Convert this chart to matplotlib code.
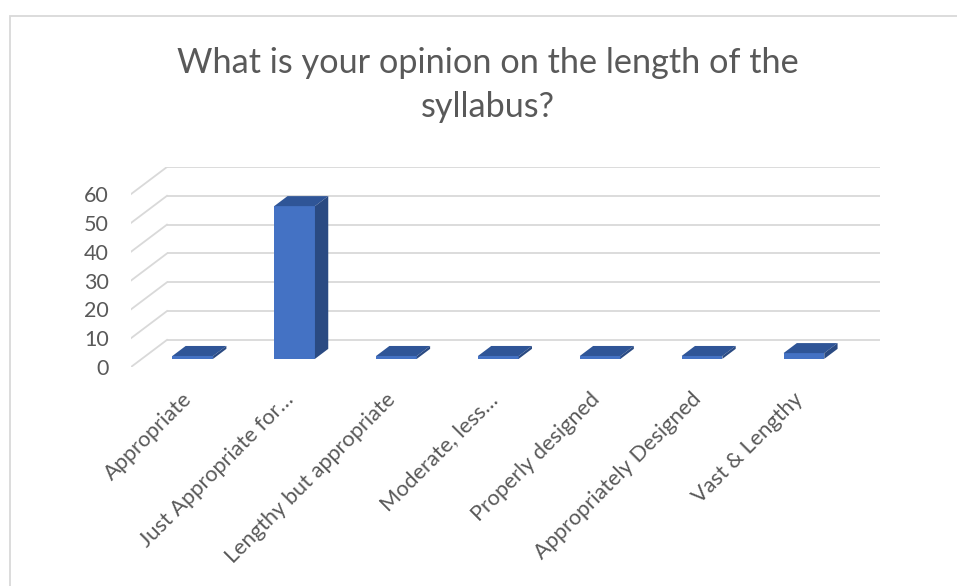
import numpy as np
import matplotlib
matplotlib.use("Agg")
import matplotlib.pyplot as plt
from matplotlib.patches import Polygon, Rectangle

# chart data
categories = [
    "Appropriate",
    "Just Appropriate for…",
    "Lengthy but appropriate",
    "Moderate, less…",
    "Properly designed",
    "Appropriately Designed",
    "Vast & Lengthy",
]
responses = [1, 53, 1, 1, 1, 1, 2]
y_ticks = [0, 10, 20, 30, 40, 50, 60]
title_lines = ["What is your opinion on the length of the", "syllabus?"]

TEXT = "#595959"
GRID = "#d9d9d9"
FRONT = "#4472C4"
TOP = "#2F5597"
SIDE = "#2A4A82"

plt.rcParams["font.family"] = ["Lato", "DejaVu Sans"]

# fake 3d: depth offset of the back wall in data units
DX = 0.353
DY = 9.4
F0, F1 = 0.30, 0.67  # bar front/back position within the depth
BAR_W = 0.4

fig = plt.figure(figsize=(9.57, 5.86), dpi=100)
ax = fig.add_axes([131 / 957, 1 - 367 / 586, 749 / 957, 200 / 586])

n = len(categories)
ax.set_xlim(0, n + DX)
ax.set_ylim(0, y_ticks[-1] + DY)

# back wall gridlines + diagonal side lines
for v in y_ticks:
    ax.plot([DX, n + DX], [v + DY, v + DY], color=GRID, lw=1.3, zorder=1,
            solid_capstyle="butt")
    ax.plot([0, DX], [v, v + DY], color=GRID, lw=1.3, zorder=1)

x = np.arange(n) + 0.5 + F0 * DX
base = F0 * DY
ddx = (F1 - F0) * DX
ddy = (F1 - F0) * DY

ax.bar(x, responses, width=BAR_W, bottom=base, color=FRONT, zorder=3)
for xc, v in zip(x, responses):
    xl, xr = xc - BAR_W / 2, xc + BAR_W / 2
    top = base + v
    ax.add_patch(Polygon([(xl, top), (xr, top), (xr + ddx, top + ddy), (xl + ddx, top + ddy)],
                         closed=True, facecolor=TOP, edgecolor="none", zorder=4))
    ax.add_patch(Polygon([(xr, base), (xr + ddx, base + ddy), (xr + ddx, top + ddy), (xr, top)],
                         closed=True, facecolor=SIDE, edgecolor="none", zorder=4))

for s in ax.spines.values():
    s.set_visible(False)

ax.set_yticks(y_ticks)
ax.set_yticklabels([str(t) for t in y_ticks])
ax.tick_params(axis="y", length=0, pad=16, labelsize=15.5, labelcolor=TEXT)

ax.set_xticks(np.arange(n) + 0.5)
ax.set_xticklabels(categories, rotation=45, ha="right", rotation_mode="anchor")
ax.tick_params(axis="x", length=0, pad=16, labelsize=15.7, labelcolor=TEXT)

fig.text(488 / 957, 1 - 73 / 586, title_lines[0], ha="center", va="baseline",
         fontsize=24.7, color=TEXT)
fig.text(488 / 957, 1 - 117 / 586, title_lines[1], ha="center", va="baseline",
         fontsize=24.7, color=TEXT)

# chart border
fig.patches.append(Rectangle((10 / 957, -0.05), 1.0, 1 - 16 / 586 + 0.05,
                             transform=fig.transFigure, fill=False,
                             edgecolor=GRID, lw=1.3))

fig.savefig("out.png", dpi=100)
